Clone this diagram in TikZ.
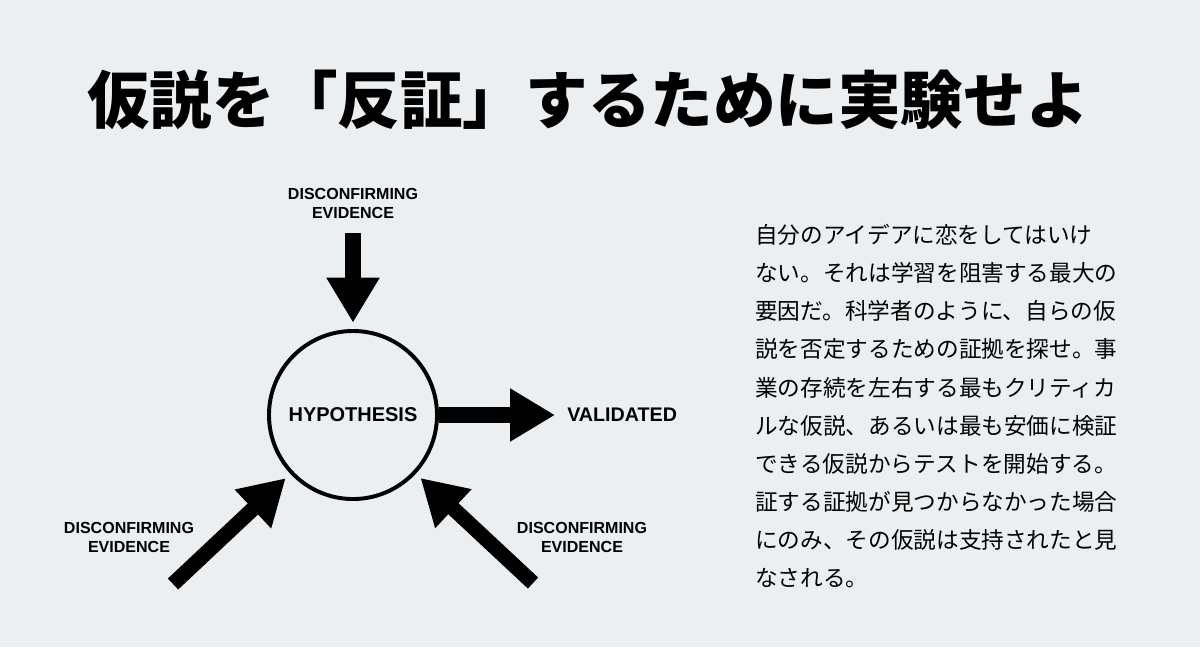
\documentclass[tikz,border=0pt]{standalone}
\usepackage{fontspec}
\newfontfamily\jpfont{Noto Sans CJK JP}
\newfontfamily\lblfont{Liberation Sans}
\usetikzlibrary{positioning, arrows.meta}
\definecolor{slidebg}{RGB}{236,239,241}

\begin{document}
\begin{tikzpicture}[x=0.025cm, y=-0.025cm,
    hyp/.style={circle, draw, line width=2.8pt, minimum size=119.5pt, inner sep=0pt,
        font=\lblfont\bfseries\fontsize{14.2}{16}\selectfont},
    evid/.style={align=center, inner sep=0pt, font=\lblfont\bfseries\fontsize{11.4}{13.5}\selectfont},
    outcome/.style={inner sep=0pt, font=\lblfont\bfseries\fontsize{14}{16}\selectfont},
    fat/.style={line width=10.7pt, -{Triangle[length=32pt, width=35.6pt]}},
    ]
\fill[slidebg] (0,0) rectangle (1200,647);
\useasboundingbox (0,0) rectangle (1200,647);

\node[font=\jpfont\bfseries\fontsize{44.5}{50}\selectfont] (title) at (588,100) {仮説を「反証」するために実験せよ};

\node[hyp] (hyp) at (353,415) {HYPOTHESIS};
\node[outcome, anchor=west] (val) at (567,415) {VALIDATED};
\node[evid] (evtop) at (353,203) {DISCONFIRMING\\EVIDENCE};
\node[evid] (evleft) at (129,537) {DISCONFIRMING\\EVIDENCE};
\node[evid] (evright) at (582,537) {DISCONFIRMING\\EVIDENCE};

\coordinate (tailtop) at (353,233);
\coordinate (tailleft) at (173,584);
\coordinate (tailright) at (533,583);

\foreach \t in {tailtop, tailleft, tailright}
    \draw[fat, shorten >=4.5pt] (\t) -- (hyp);
\draw[fat, shorten >=8.5pt] (hyp) -- (val);

\node[anchor=north west, align=left, inner sep=0pt,
    font=\jpfont\fontsize{16.1}{27.1}\selectfont] (body) at (755,224) {%
自分のアイデアに恋をしてはいけ\\
ない。それは学習を阻害する最大の\\
要因だ。科学者のように、自らの仮\\
説を否定するための証拠を探せ。事\\
業の存続を左右する最もクリティカ\\
ルな仮説、あるいは最も安価に検証\\
できる仮説からテストを開始する。\\
証する証拠が見つからなかった場合\\
にのみ、その仮説は支持されたと見\\
なされる。};

\end{tikzpicture}
\end{document}
